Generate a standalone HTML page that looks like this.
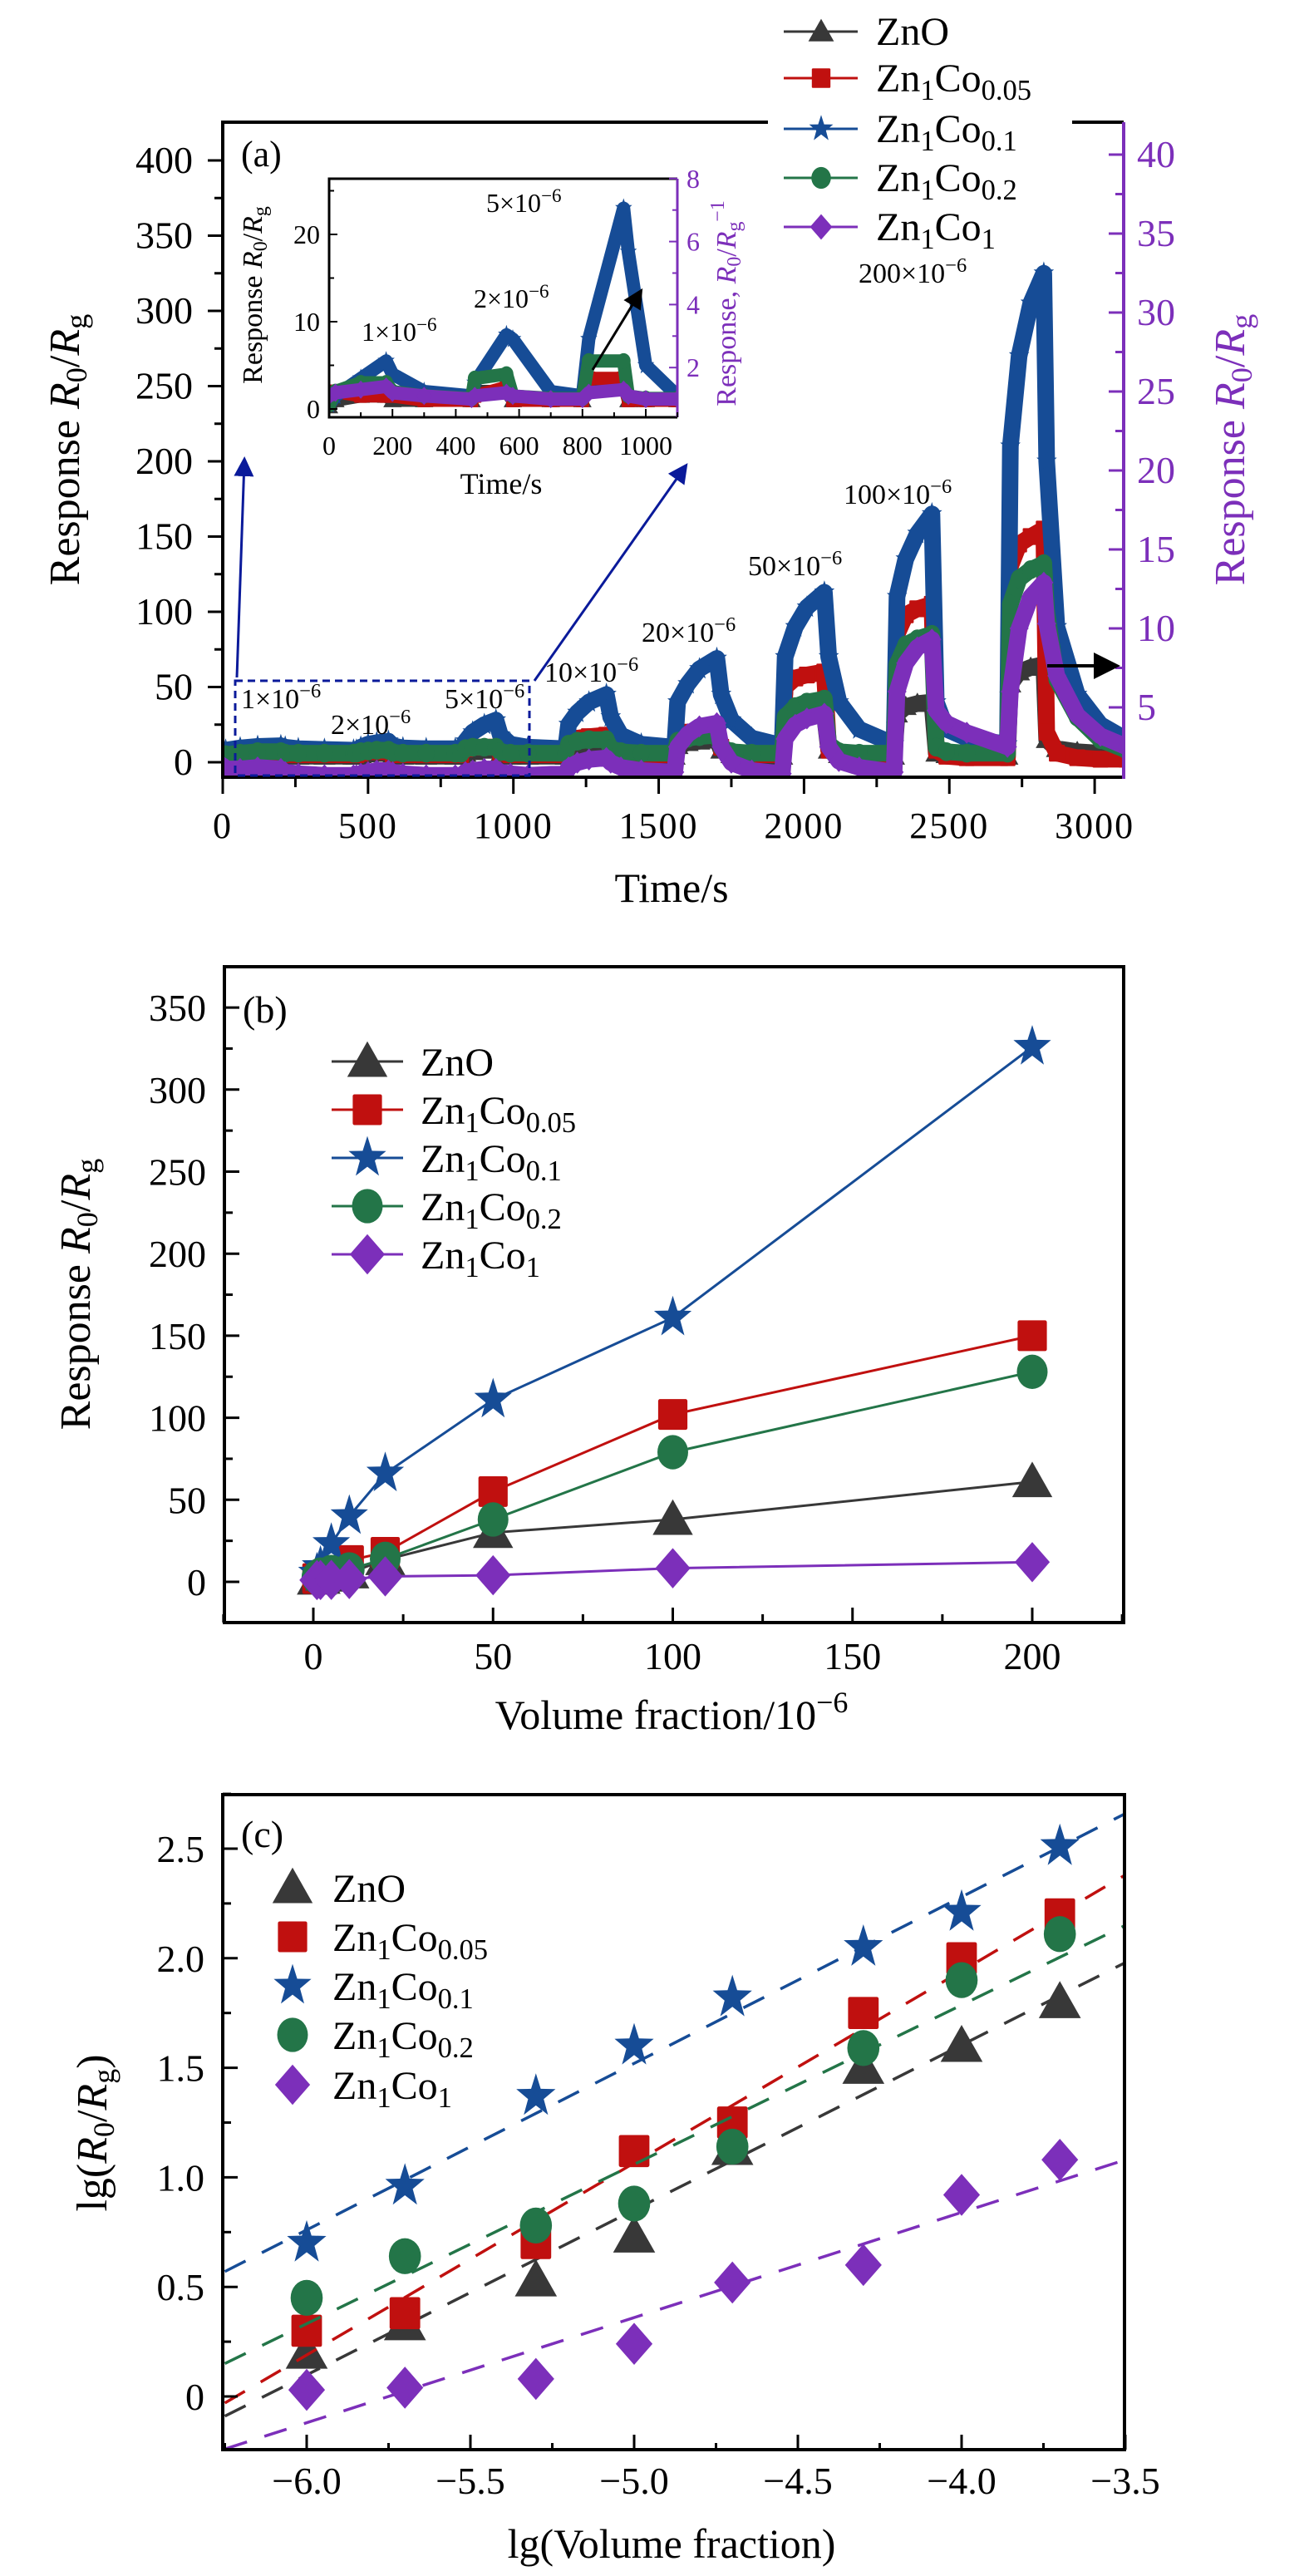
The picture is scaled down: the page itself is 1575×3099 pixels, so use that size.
<!DOCTYPE html>
<html><head><meta charset="utf-8"><style>
html,body{margin:0;padding:0;background:#fff}
svg{display:block}
text{font-family:"Liberation Serif",serif}
</style></head><body>
<svg id="fig" width="1575" height="3099" viewBox="0 0 1575 3099" xmlns="http://www.w3.org/2000/svg">
<defs>
<clipPath id="clipA"><rect x="268" y="147" width="1084" height="788"/></clipPath>
<clipPath id="clipI"><rect x="396" y="215" width="419" height="287"/></clipPath>
<clipPath id="clipB"><rect x="270" y="1163" width="1082" height="789"/></clipPath>
<clipPath id="clipC"><rect x="268" y="2159" width="1085" height="788"/></clipPath>
<marker id="ahBlue" markerWidth="8" markerHeight="8" refX="6" refY="4" orient="auto" markerUnits="strokeWidth"><path d="M0,0 L8,4 L0,8 Z" fill="#0a1a9a"/></marker>
<marker id="ahBlack" markerWidth="8" markerHeight="8" refX="6" refY="4" orient="auto" markerUnits="strokeWidth"><path d="M0,0 L8,4 L0,8 Z" fill="#000"/></marker>
</defs>
<g id="panelA"></g>
<g id="panelB"></g>
<g id="panelC"></g>
</svg>
<script>
// ---------- data: panel (a) main time series ----------
const tA = [0,10,60,120,200,215,260,350,450,
  460,475,500,530,570,585,620,700,800,
  820,835,860,900,940,955,990,1050,1180,
  1190,1220,1260,1320,1335,1370,1440,1555,
  1565,1600,1640,1700,1715,1750,1820,1925,
  1935,1970,2010,2070,2085,2120,2190,2310,
  2320,2350,2390,2440,2455,2490,2560,2700,
  2710,2740,2780,2825,2835,2870,2940,3020,3110];
const aCo01  = [5,8,9.5,10.5,11,10,9,8.5,8,
  8,10,12,13,14,11,9.5,9,9,
  9,14,20,25,28,18,12,10,9,
  25,33,40,45,30,18,12,10,
  40,52,62,69,45,28,16,11,
  70,90,103,113,70,40,22,12,
  110,135,152,165,40,22,16,12,
  210,270,305,325,200,90,45,25,15];
const aCo005 = [8,7,6,6,6,5,5,5,5,
  5,6,7,7,7,5,5,5,5,
  5,9,10,10,10,6,5,5,5,
  14,16,17,18,8,6,5,5,
  18,20,21,22,10,6,5,5,
  50,56,58,60,8,4,3,3,
  85,98,102,105,8,4,3,3,
  130,145,150,155,20,6,3,2,2];
const aZnO   = [3,4,4.5,5,5,4.5,4,4,4,
  4,5,5.5,6,6,4.5,4,4,4,
  4,6,7,8,8,5,4,4,4,
  7,8.5,9.5,10,6,5,4,4,
  11,13,14,15,8,5,4,4,
  25,29,31,32,8,5,4,4,
  32,37,39,40,6,5,4,4,
  52,60,63,65,15,9,7,6,5];
const aCo02  = [3,5,6,7,7,6,6,6,6,
  6,7,7.5,8,8,6.5,6,6,6,
  6,9,10,10,10,7,6,6,6,
  12,14,15,15,9,7,6,6,
  14,16,17,18,10,7,6,6,
  30,37,40,42,12,7,6,6,
  65,78,82,85,10,7,6,6,
  105,122,128,132,100,55,30,15,8];
const aCo1   = [1.3,1.1,1.1,1.2,1.1,0.9,0.8,0.7,0.7,
  0.7,0.8,0.9,1.0,1.0,0.9,0.8,0.7,0.7,
  0.7,0.9,1.0,1.1,1.1,0.9,0.8,0.7,0.8,
  1.2,1.5,1.7,1.8,1.5,1.2,1.0,0.9,
  2.5,3.3,3.8,4.0,2.5,1.5,1.0,0.8,
  3.0,3.9,4.3,4.6,2.5,1.6,1.2,0.9,
  6,7.8,8.8,9.3,4.8,4.0,3.4,2.5,
  6,10,12,12.9,10.3,7,4.5,3.2,2.5];
const aXTicks = [0,500,1000,1500,2000,2500,3000];
const aYTicks = [0,50,100,150,200,250,300,350,400];
const aRTicks = [5,10,15,20,25,30,35,40];
// ---------- data: inset ----------
const tI = [0,20,100,180,200,300,450,460,560,580,700,800,820,930,945,1000,1100];
const iZnO   = [0.3,1,1.5,1.5,1,1,1,2,2,1,1,1,3,3,1,1,1];
const iCo005 = [2,2,1.5,1.5,1.5,1,1,1.5,2.5,1,1,1,3.5,3.5,1,1,1];
const iCo01  = [0.5,1.5,3.5,5.5,4,2,1.5,3,8.5,8,2,1.5,8,23,18,5,1.5];
const iCo02  = [0.5,2,3,3,2,1.5,1.2,3.5,4,1.5,1.2,1.2,5.5,5.5,1.5,1.2,1.2];
const iCo1   = [1.1,1.2,1.3,1.4,1.2,1.1,1.0,1.1,1.2,1.1,1.0,1.0,1.2,1.3,1.1,1.0,1.0];
const iXTicks = [0,200,400,600,800,1000];
const iYTicks = [0,10,20];
const iRTicks = [2,4,6,8];
// ---------- data: panel (b) ----------
const volFrac = [1,2,5,10,20,50,100,200];
const bZnO   = [1.6,2.1,3.4,5.4,13.5,30,38,61];
const bCo005 = [2,2.4,5,13,18,55,102,150];
const bCo01  = [5,9,23,40,66,111,161,326];
const bCo02  = [2.8,4.4,6,7.6,14,38,79,128];
const bCo1   = [1.07,1.1,1.2,1.7,3.3,4,8.3,12];
const bXTicks = [0,50,100,150,200];
const bYTicks = [0,50,100,150,200,250,300,350];
// ---------- data: panel (c) ----------
const lgFrac = [-6,-5.7,-5.3,-5,-4.7,-4.3,-4,-3.7];
const cZnO   = [0.2,0.33,0.53,0.73,1.13,1.5,1.6,1.8];
const cCo005 = [0.3,0.38,0.7,1.12,1.25,1.75,2.0,2.2];
const cCo01  = [0.7,0.96,1.37,1.6,1.82,2.05,2.21,2.51];
const cCo02  = [0.45,0.64,0.78,0.88,1.14,1.59,1.9,2.11];
const cCo1   = [0.03,0.04,0.08,0.24,0.52,0.6,0.92,1.08];
const fitX = [-6.25,-3.5];
const fitZnO   = [-0.09,1.98];
const fitCo005 = [-0.03,2.38];
const fitCo01  = [0.57,2.66];
const fitCo02  = [0.15,2.15];
const fitCo1   = [-0.24,1.08];
const cXTicks = [-6.0,-5.5,-5.0,-4.5,-4.0,-3.5];
const cYTicks = [0,0.5,1.0,1.5,2.0,2.5];

const NS='http://www.w3.org/2000/svg';
const COL={zno:'#383838',co005:'#c0100f',co01:'#164c96',co02:'#237548',co1:'#7c2fba'};
const PUR='#7c2fba';
function E(tag,parent,attrs){const e=document.createElementNS(NS,tag);for(const k in attrs)e.setAttribute(k,attrs[k]);parent.appendChild(e);return e;}

const xa=t=>268+t*0.3497, ya=v=>917-v*1.81, yaR=v=>946-v*19.0;
const xi=t=>396+t*0.381, yi=v=>492-v*10.5, yiR=v=>518-v*37.9;
const xb=v=>377+v*4.325, yb=v=>1903-v*1.974;
const xc=v=>369+(v+6)*394, yc=v=>2883-v*263.6;

function markerShape(g,type,x,y,s,col){
  let el;
  if(type==='tri'){el=E('polygon',g,{points:`${x},${y-s*0.55} ${x-s*0.55},${y+s*0.42} ${x+s*0.55},${y+s*0.42}`,fill:col});}
  else if(type==='sq'){el=E('rect',g,{x:x-s*0.4,y:y-s*0.42,width:s*0.8,height:s*0.84,fill:col,rx:s*0.05});}
  else if(type==='star'){let p=[];for(let i=0;i<10;i++){const r=i%2?s*0.24:s*0.6;const a=-Math.PI/2+i*Math.PI/5;p.push((x+r*Math.cos(a)*0.9).toFixed(1)+','+(y+r*Math.sin(a)).toFixed(1));}el=E('polygon',g,{points:p.join(' '),fill:col});}
  else if(type==='circ'){el=E('ellipse',g,{cx:x,cy:y,rx:s*0.42,ry:s*0.47,fill:col});}
  else {el=E('polygon',g,{points:`${x},${y-s*0.55} ${x+s*0.48},${y} ${x},${y+s*0.55} ${x-s*0.48},${y}`,fill:col});}
  return el;
}
function txt(g,x,y,str,size,attrs){const t=E('text',g,Object.assign({x:x,y:y,'font-size':size},attrs||{}));t.textContent=str;return t;}
function chem(g,x,y,size,parts,name){
  const t=E('text',g,{x:x,y:y,'font-size':size});
  
  
  parts.forEach(p=>{const s=E('tspan',t,{});s.textContent=p[0];if(p[1]){s.setAttribute('font-size',size*0.72);s.setAttribute('baseline-shift','-28%');}});
  return t;
}
const LEG=[['zno','tri',[['ZnO',0]]],['co005','sq',[['Zn',0],['1',1],['Co',0],['0.05',1]]],['co01','star',[['Zn',0],['1',1],['Co',0],['0.1',1]]],['co02','circ',[['Zn',0],['1',1],['Co',0],['0.2',1]]],['co1','dia',[['Zn',0],['1',1],['Co',0],['1',1]]]];
function concLabel(g,x,y,num,size,name){
  const t=E('text',g,{x:x,y:y,'font-size':size});
  
  
  const a=E('tspan',t,{});a.textContent=num+'\u00d710';
  const b=E('tspan',t,{'font-size':size*0.72,dy:-size*0.38});b.textContent='\u22126';
}
function ylabel(g,x,y,size,col,extraSup,name){
  const t=E('text',g,{x:0,y:0,'font-size':size,fill:col,'text-anchor':'middle',transform:`translate(${x},${y}) rotate(-90)`});
  
  
  const parts=[['Response  ',0,''],['R',0,'i'],['0',1,''],['/',0,''],['R',0,'i'],['g',1,'']];
  parts.forEach(p=>{const s=E('tspan',t,{});s.textContent=p[0];if(p[2]==='i')s.setAttribute('font-style','italic');if(p[1]){s.setAttribute('font-size',size*0.7);s.setAttribute('baseline-shift','-25%');}});
  if(extraSup){const s=E('tspan',t,{'font-size':size*0.7,'baseline-shift':'60%'});s.textContent='\u22121';}
  return t;
}

// ================= PANEL A =================
(function(){
const g=document.getElementById('panelA');
const series=[['zno','tri',aZnO,iZnO,false],['co005','sq',aCo005,iCo005,false],['co01','star',aCo01,iCo01,false],['co02','circ',aCo02,iCo02,false],['co1','dia',aCo1,iCo1,true]];
const plot=E('g',g,{'clip-path':'url(#clipA)'});


series.forEach(s=>{
  const yf=s[4]?yaR:ya;
  const sg=E('g',plot,{});
  
  
  const pts=tA.map((t,i)=>xa(t).toFixed(1)+','+yf(s[2][i]).toFixed(1)).join(' ');
  const pl=E('polyline',sg,{points:pts,fill:'none',stroke:COL[s[0]],'stroke-width':20,'stroke-linejoin':'round','stroke-linecap':'round'});
  
  
  tA.forEach((t,i)=>{const m=markerShape(sg,s[1],xa(t),yf(s[2][i]),24,COL[s[0]]);
    
    });
});
const fr=E('g',g,{stroke:'#000','stroke-width':4,fill:'none'});


E('line',fr,{x1:268,y1:147,x2:924,y2:147});
E('line',fr,{x1:1290,y1:147,x2:1352,y2:147});
E('line',fr,{x1:268,y1:145,x2:268,y2:937});
E('line',fr,{x1:266,y1:935,x2:1352,y2:935});
E('line',g,{x1:1352,y1:147,x2:1352,y2:937,stroke:PUR,'stroke-width':4});
aYTicks.forEach(v=>{E('line',g,{x1:250,y1:ya(v),x2:268,y2:ya(v),stroke:'#000','stroke-width':3});
  const t=txt(g,232,ya(v)+15,String(v),46,{'text-anchor':'end'});
  
  
  if(v<400)E('line',g,{x1:258,y1:ya(v+25),x2:268,y2:ya(v+25),stroke:'#000','stroke-width':3});});
aXTicks.forEach(v=>{E('line',g,{x1:xa(v),y1:935,x2:xa(v),y2:955,stroke:'#000','stroke-width':3});
  if(v<3000)E('line',g,{x1:xa(v+250),y1:935,x2:xa(v+250),y2:947,stroke:'#000','stroke-width':3});
  const t=txt(g,xa(v),1008,String(v),44,{'text-anchor':'middle','letter-spacing':'2'});
  
  });
aRTicks.forEach(v=>{E('line',g,{x1:1334,y1:yaR(v),x2:1352,y2:yaR(v),stroke:PUR,'stroke-width':3});
  E('line',g,{x1:1342,y1:yaR(v-2.5),x2:1352,y2:yaR(v-2.5),stroke:PUR,'stroke-width':3});
  const t=txt(g,1368,yaR(v)+15,String(v),46,{fill:PUR});
  
  });
ylabel(g,95,541,52,'#000',false,'y-axis-title');
ylabel(g,1497,541,52,PUR,false,'right-y-axis-title');
const xt=txt(g,808,1085,'Time/s',50,{'text-anchor':'middle'});


const pa=txt(g,290,200,'(a)',44,{});


[[290,852,'1','conc-1ppm'],[398,883,'2','conc-2ppm'],[535,852,'5','conc-5ppm'],[655,820,'10','conc-10ppm'],[772,772,'20','conc-20ppm'],[900,692,'50','conc-50ppm'],[1015,606,'100','conc-100ppm'],[1033,340,'200','conc-200ppm']].forEach(c=>concLabel(g,c[0],c[1],c[2],34,c[3]));
const box=E('rect',g,{x:283,y:819,width:354,height:114,fill:'none',stroke:'#0a1a9a','stroke-width':3,'stroke-dasharray':'9,6'});


const ar1=E('line',g,{x1:285,y1:815,x2:294,y2:555,stroke:'#0a1a9a','stroke-width':3,'marker-end':'url(#ahBlue)'});


const ar2=E('line',g,{x1:643,y1:819,x2:824,y2:562,stroke:'#0a1a9a','stroke-width':3,'marker-end':'url(#ahBlue)'});


const ar3=E('line',g,{x1:1260,y1:801,x2:1340,y2:801,stroke:'#000','stroke-width':4,'marker-end':'url(#ahBlack)'});


const lg=E('g',g,{});


const ly=[38,94,155,214,273];
LEG.forEach((L,i)=>{
  const e=E('g',lg,{});
  
  
  E('line',e,{x1:943,y1:ly[i],x2:1032,y2:ly[i],stroke:COL[L[0]],'stroke-width':3});
  markerShape(e,L[1],988,ly[i],28,COL[L[0]]);
  chem(e,1054,ly[i]+16,48,L[2],'legend-label-'+L[0]);
});
const ig=E('g',g,{});


const ip=E('g',ig,{'clip-path':'url(#clipI)'});
series.forEach(s=>{
  const yf=s[4]?yiR:yi;
  const sg=E('g',ip,{});
  
  
  const pts=tI.map((t,i)=>xi(t).toFixed(1)+','+yf(s[3][i]).toFixed(1)).join(' ');
  E('polyline',sg,{points:pts,fill:'none',stroke:COL[s[0]],'stroke-width':16,'stroke-linejoin':'round','stroke-linecap':'round'});
  tI.forEach((t,i)=>{const m=markerShape(sg,s[1],xi(t),yf(s[3][i]),20,COL[s[0]]);
    
    });
});
E('polyline',ig,{points:'815,215 396,215 396,502 815,502',fill:'none',stroke:'#000','stroke-width':3});
E('line',ig,{x1:815,y1:215,x2:815,y2:502,stroke:PUR,'stroke-width':3});
iYTicks.forEach(v=>{E('line',ig,{x1:396,y1:yi(v),x2:406,y2:yi(v),stroke:'#000','stroke-width':2});
  const t=txt(ig,385,yi(v)+11,String(v),32,{'text-anchor':'end'});
  
  });
[5,15,25].forEach(v=>E('line',ig,{x1:396,y1:yi(v),x2:402,y2:yi(v),stroke:'#000','stroke-width':2}));
iXTicks.forEach(v=>{E('line',ig,{x1:xi(v),y1:502,x2:xi(v),y2:492,stroke:'#000','stroke-width':2});
  E('line',ig,{x1:xi(v+100),y1:502,x2:xi(v+100),y2:496,stroke:'#000','stroke-width':2});
  const t=txt(ig,xi(v),547,String(v),32,{'text-anchor':'middle'});
  
  });
iRTicks.forEach(v=>{E('line',ig,{x1:805,y1:yiR(v),x2:815,y2:yiR(v),stroke:PUR,'stroke-width':2});
  E('line',ig,{x1:809,y1:yiR(v-1),x2:815,y2:yiR(v-1),stroke:PUR,'stroke-width':2});
  const t=txt(ig,826,yiR(v)+11,String(v),32,{fill:PUR});
  
  });
ylabel(ig,315,355,34,'#000',false,'inset-y-axis-title');
const ry=ylabel(ig,885,365,34,PUR,true,'inset-right-axis-title');
ry.firstChild.textContent='Response,  ';
const it=txt(ig,603,594,'Time/s',36,{'text-anchor':'middle'});


[[435,410,'1','inset-conc-1ppm'],[570,370,'2','inset-conc-2ppm'],[585,255,'5','inset-conc-5ppm']].forEach(c=>concLabel(ig,c[0],c[1],c[2],32,c[3]));
const ar4=E('line',ig,{x1:713,y1:445,x2:770,y2:352,stroke:'#000','stroke-width':3,'marker-end':'url(#ahBlack)'});


})();

// ================= PANEL B =================
(function(){
const g=document.getElementById('panelB');
const series=[['zno','tri',bZnO],['co005','sq',bCo005],['co01','star',bCo01],['co02','circ',bCo02],['co1','dia',bCo1]];
const plot=E('g',g,{'clip-path':'url(#clipB)'});


series.forEach(s=>{
  const sg=E('g',plot,{});
  
  
  E('polyline',sg,{points:volFrac.map((v,i)=>xb(v).toFixed(1)+','+yb(s[2][i]).toFixed(1)).join(' '),fill:'none',stroke:COL[s[0]],'stroke-width':3});
  volFrac.forEach((v,i)=>{const m=markerShape(sg,s[1],xb(v),yb(s[2][i]),44,COL[s[0]]);
    
    });
});
const fr=E('rect',g,{x:270,y:1163,width:1082,height:789,fill:'none',stroke:'#000','stroke-width':4});


bYTicks.forEach(v=>{E('line',g,{x1:270,y1:yb(v),x2:288,y2:yb(v),stroke:'#000','stroke-width':3});
  E('line',g,{x1:270,y1:yb(v+25),x2:280,y2:yb(v+25),stroke:'#000','stroke-width':3});
  const t=txt(g,248,yb(v)+16,String(v),46,{'text-anchor':'end'});
  
  });
E('line',g,{x1:270,y1:yb(-25),x2:280,y2:yb(-25),stroke:'#000','stroke-width':3});
bXTicks.forEach(v=>{E('line',g,{x1:xb(v),y1:1952,x2:xb(v),y2:1934,stroke:'#000','stroke-width':3});
  E('line',g,{x1:xb(v+25),y1:1952,x2:xb(v+25),y2:1942,stroke:'#000','stroke-width':3});
  const t=txt(g,xb(v),2008,String(v),46,{'text-anchor':'middle'});
  
  });
E('line',g,{x1:xb(-25),y1:1952,x2:xb(-25),y2:1942,stroke:'#000','stroke-width':3});
ylabel(g,108,1557,52,'#000',false,'y-axis-title-b');
const xt=E('text',g,{x:808,y:2080,'font-size':50,'text-anchor':'middle'});


const a=E('tspan',xt,{});a.textContent='Volume fraction/10';
const b=E('tspan',xt,{'font-size':36,dy:-20});b.textContent='\u22126';
const pl=txt(g,292,1230,'(b)',46,{});


const lg=E('g',g,{});


const ly=[1277,1335,1393,1451,1509];
LEG.forEach((L,i)=>{
  const e=E('g',lg,{});
  
  
  E('line',e,{x1:399,y1:ly[i],x2:485,y2:ly[i],stroke:COL[L[0]],'stroke-width':3});
  markerShape(e,L[1],442,ly[i],44,COL[L[0]]);
  chem(e,506,ly[i]+17,48,L[2],'legend-b-label-'+L[0]);
});
})();

// ================= PANEL C =================
(function(){
const g=document.getElementById('panelC');
const series=[['zno','tri',cZnO,fitZnO],['co005','sq',cCo005,fitCo005],['co01','star',cCo01,fitCo01],['co02','circ',cCo02,fitCo02],['co1','dia',cCo1,fitCo1]];
const plot=E('g',g,{'clip-path':'url(#clipC)'});


series.forEach(s=>{
  const sg=E('g',plot,{});
  
  
  const f=E('line',sg,{x1:xc(fitX[0]),y1:yc(s[3][0]),x2:xc(fitX[1]),y2:yc(s[3][1]),stroke:COL[s[0]],'stroke-width':3.5,'stroke-dasharray':'28,22'});
  
  
  lgFrac.forEach((v,i)=>{const m=markerShape(sg,s[1],xc(v),yc(s[2][i]),46,COL[s[0]]);
    
    });
});
const fr=E('rect',g,{x:268,y:2159,width:1085,height:788,fill:'none',stroke:'#000','stroke-width':4});


cYTicks.forEach(v=>{E('line',g,{x1:268,y1:yc(v),x2:286,y2:yc(v),stroke:'#000','stroke-width':3});
  E('line',g,{x1:268,y1:yc(v+0.25),x2:278,y2:yc(v+0.25),stroke:'#000','stroke-width':3});
  const t=txt(g,246,yc(v)+16,v===0?'0':v.toFixed(1),46,{'text-anchor':'end'});
  
  });
cXTicks.forEach(v=>{E('line',g,{x1:xc(v),y1:2947,x2:xc(v),y2:2929,stroke:'#000','stroke-width':3});
  if(v<-3.6)E('line',g,{x1:xc(v+0.25),y1:2947,x2:xc(v+0.25),y2:2939,stroke:'#000','stroke-width':3});
  const t=txt(g,xc(v),3000,'\u2212'+Math.abs(v).toFixed(1),46,{'text-anchor':'middle'});
  
  });
E('line',g,{x1:xc(-6.25),y1:2947,x2:xc(-6.25),y2:2939,stroke:'#000','stroke-width':3});
const yt=E('text',g,{x:0,y:0,'font-size':52,'text-anchor':'middle',transform:'translate(128,2566) rotate(-90)'});


[['lg(',0,''],['R',0,'i'],['0',1,''],['/',0,''],['R',0,'i'],['g',1,''],[')',0,'']].forEach(p=>{const s=E('tspan',yt,{});s.textContent=p[0];if(p[2])s.setAttribute('font-style','italic');if(p[1]){s.setAttribute('font-size',36);s.setAttribute('baseline-shift','-25%');}});
const xt=txt(g,808,3077,'lg(Volume fraction)',50,{'text-anchor':'middle'});


const pl=txt(g,290,2222,'(c)',46,{});


const lg=E('g',g,{});


const ly=[2271,2330,2389,2448,2508];
LEG.forEach((L,i)=>{
  const e=E('g',lg,{});
  
  
  markerShape(e,L[1],352,ly[i],44,COL[L[0]]);
  chem(e,400,ly[i]+17,48,L[2],'legend-c-label-'+L[0]);
});
})();
</script>
</body></html>
